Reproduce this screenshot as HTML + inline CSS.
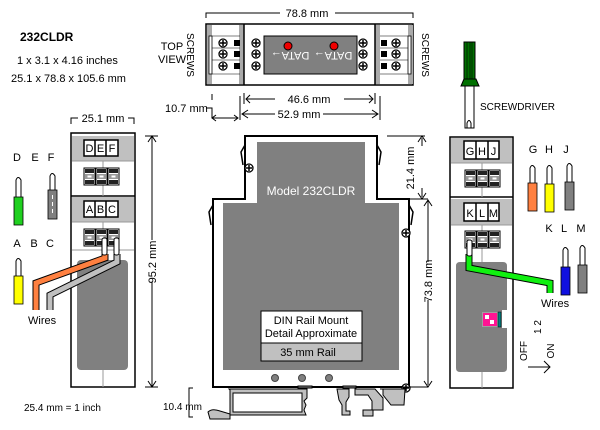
<!DOCTYPE html>
<html><head><style>
body{margin:0;background:#fff}
svg{display:block}
text{font-family:"Liberation Sans",sans-serif;font-size:11px;fill:#000}
</style></head><body>
<svg width="600" height="430" viewBox="0 0 600 430" xmlns="http://www.w3.org/2000/svg">
<defs>
<g id="scr"><circle r="4" fill="#fff" stroke="#000" stroke-width="1.3"/><path d="M-3 0H3M0 -3V3" stroke="#000" stroke-width="1.5"/></g>
<g id="term"><rect x="0" y="0" width="11" height="17" fill="#fff" stroke="#000"/><rect x="1" y="1" width="9" height="4" fill="#222"/><rect x="1" y="6" width="9" height="5" fill="#999"/><rect x="3.5" y="7.5" width="4" height="2" fill="#fff"/><rect x="1" y="12" width="9" height="4" fill="#222"/></g>
</defs>

<text x="20" y="41" font-weight="bold" style="font-size:12px">232CLDR</text>
<text x="17" y="64">1 x 3.1 x 4.16 inches</text>
<text x="11" y="82">25.1 x 78.8 x 105.6 mm</text>
<text x="24" y="411" style="font-size:10px">25.4 mm = 1 inch</text>

<text x="172" y="50" text-anchor="middle">TOP</text>
<text x="172" y="63" text-anchor="middle">VIEW</text>
<path d="M206 18V13H280M335 13H413V18" fill="none" stroke="#000"/>
<text x="307" y="17" text-anchor="middle">78.8 mm</text>
<rect x="206" y="24" width="207" height="61" fill="#fff" stroke="#000" stroke-width="1.5"/>
<rect x="207" y="25" width="5" height="59" fill="#aaa"/>
<rect x="239" y="25" width="5" height="59" fill="#aaa"/>
<rect x="375" y="25" width="5" height="59" fill="#aaa"/>
<rect x="408" y="25" width="5" height="59" fill="#aaa"/>
<path d="M244 24V85M375 24V85" stroke="#000" stroke-width="1.5"/>
<rect x="209" y="36" width="3" height="38" fill="#fff" stroke="#000" stroke-width=".8"/>
<rect x="408" y="36" width="3" height="38" fill="#fff" stroke="#000" stroke-width=".8"/>
<path d="M212 36H240M212 48H240M212 60H240M212 74H240M380 36H408M380 48H408M380 60H408M380 74H408" stroke="#000" stroke-width=".6"/>
<rect x="264" y="36" width="93" height="38" fill="#808080" stroke="#000"/>
<use href="#scr" x="223" y="43"/><use href="#scr" x="223" y="54"/><use href="#scr" x="223" y="66"/>
<use href="#scr" x="256" y="43"/><use href="#scr" x="256" y="54"/><use href="#scr" x="256" y="66"/>
<use href="#scr" x="363" y="43"/><use href="#scr" x="363" y="54"/><use href="#scr" x="363" y="66"/>
<use href="#scr" x="396" y="43"/><use href="#scr" x="396" y="54"/><use href="#scr" x="396" y="66"/>
<rect x="234" y="40" width="6" height="6" fill="#000"/><rect x="234" y="51" width="6" height="6" fill="#000"/><rect x="234" y="63" width="6" height="6" fill="#000"/>
<rect x="381" y="40" width="6" height="6" fill="#000"/><rect x="381" y="51" width="6" height="6" fill="#000"/><rect x="381" y="63" width="6" height="6" fill="#000"/>
<circle cx="288" cy="46" r="4" fill="#e00" stroke="#000"/><circle cx="334" cy="46" r="4" fill="#e00" stroke="#000"/>
<text transform="translate(290,52) rotate(180)" text-anchor="middle" style="fill:#fff">DATA→</text>
<text transform="translate(333,52) rotate(180)" text-anchor="middle" style="fill:#fff">DATA→</text>
<text transform="translate(187,55) rotate(90)" text-anchor="middle" style="font-size:10px">SCREWS</text>
<text transform="translate(422,55) rotate(90)" text-anchor="middle" style="font-size:10px">SCREWS</text>
<path d="M212 94V100M240 96V120M244 93V104M375 93V104M380 96V120" stroke="#000"/>
<path d="M246 99H275M344 99H373M242 114H275M323 114H378" stroke="#000"/>
<path d="M250 95L246 99L250 103M369 95L373 99L369 103M248 110L242 114L248 118M372 110L378 114L372 118" fill="none" stroke="#000"/>
<text x="309" y="103" text-anchor="middle">46.6 mm</text>
<text x="299" y="118" text-anchor="middle">52.9 mm</text>
<text x="165" y="112">10.7 mm</text>
<path d="M206 108H212V118M212 118H238M216 115L212 118L216 121M234 115L238 118L234 121" fill="none" stroke="#000"/>

<rect x="464" y="42" width="11" height="37" fill="#007000" stroke="#000"/>
<path d="M467 42V79M470 42V79M472 42V79" stroke="#000" stroke-width=".6"/>
<path d="M464 79L461 86H479L476 79Z" fill="#007000" stroke="#000"/>
<rect x="465" y="86" width="9" height="42" fill="#fff" stroke="#000"/>
<path d="M467 128V123Q469 118 471 123V128" fill="none" stroke="#000"/>
<text x="480" y="110" style="font-size:10px">SCREWDRIVER</text>

<path d="M71 124V118H78M128 118H134V124" fill="none" stroke="#000"/>
<text x="103" y="122" text-anchor="middle">25.1 mm</text>
<rect x="71" y="133" width="64" height="254" fill="#fff" stroke="#000" stroke-width="1.5"/>
<rect x="72" y="136" width="62" height="25" fill="#c0c0c0"/>
<rect x="72" y="197" width="62" height="25" fill="#c0c0c0"/>
<path d="M71 196H135" stroke="#000" stroke-width="1.5"/>
<path d="M72 161H134M72 222H134M72 250H134" stroke="#999"/>
<path d="M103 161V196M103 222V255M103 370V387" stroke="#999"/>
<g stroke="#000" stroke-width="1.5" fill="#fff">
<rect x="84" y="140" width="34" height="16"/><path d="M95 140V156M106 140V156"/>
<rect x="84" y="201" width="34" height="16"/><path d="M95 201V217M106 201V217"/>
</g>
<text x="89.5" y="152" text-anchor="middle">D</text><text x="100.5" y="152" text-anchor="middle">E</text><text x="112" y="152" text-anchor="middle">F</text>
<text x="89.5" y="213" text-anchor="middle">A</text><text x="100.5" y="213" text-anchor="middle">B</text><text x="112" y="213" text-anchor="middle">C</text>
<use href="#term" x="84" y="168"/><use href="#term" x="96" y="168"/><use href="#term" x="108" y="168"/>
<use href="#term" x="84" y="229"/><use href="#term" x="96" y="229"/><use href="#term" x="108" y="229"/>
<rect x="77" y="260" width="51" height="110" rx="4" fill="#808080"/>
<path d="M105 254V258L36 283V310" fill="none" stroke="#000" stroke-width="7"/>
<path d="M105 254V258L36 283V310" fill="none" stroke="#ff8040" stroke-width="5"/>
<path d="M117 254V262L50 295V310" fill="none" stroke="#000" stroke-width="7"/>
<path d="M117 254V262L50 295V310" fill="none" stroke="#c0c0c0" stroke-width="5"/>
<rect x="102" y="238" width="5" height="17" fill="#fff" stroke="#000" rx="2"/>
<rect x="114" y="238" width="5" height="17" fill="#fff" stroke="#000" rx="2"/>
<text x="28" y="324">Wires</text>
<path d="M145 136H158M145 387H158M152 137V240M152 282V386M148 142L152 136L156 142M148 381L152 387L156 381" fill="none" stroke="#000"/>
<text transform="translate(156,262) rotate(-90)" text-anchor="middle">95.2 mm</text>
<text x="17" y="161" text-anchor="middle">D</text><text x="35" y="161" text-anchor="middle">E</text><text x="51" y="161" text-anchor="middle">F</text>
<text x="17" y="247" text-anchor="middle">A</text><text x="34" y="247" text-anchor="middle">B</text><text x="50" y="247" text-anchor="middle">C</text>
<path d="M16 198V180Q18 175 21 180V198Z" fill="#fff" stroke="#000"/><rect x="14" y="197" width="9" height="28" fill="#20d020" stroke="#000" stroke-width=".8"/>
<path d="M50 191V176Q52 171 55 176V191Z" fill="#fff" stroke="#000"/><rect x="48" y="190" width="9" height="29" fill="#808080" stroke="#000" stroke-width=".8"/><path d="M52.5 195V214" stroke="#fff" stroke-dasharray="4 3"/>
<path d="M16 277V261Q18 256 21 261V277Z" fill="#fff" stroke="#000"/><rect x="14" y="276" width="9" height="28" fill="#ffff00" stroke="#000" stroke-width=".8"/>

<path d="M245 136H377V199H409V387H213V199H245Z" fill="#fff" stroke="#000" stroke-width="2"/>
<path d="M245 145L241 152L243 165M377 145L381 152L379 165M213 205L209 212L211 225M409 205L413 212L411 225" fill="none" stroke="#000" stroke-width="1.5"/>
<rect x="257" y="142" width="108" height="62" fill="#808080"/>
<rect x="223" y="203" width="176" height="167" fill="#808080"/>
<text x="311" y="195" text-anchor="middle" style="fill:#fff;font-size:12px">Model 232CLDR</text>
<rect x="261" y="311" width="101" height="32" fill="#fff" stroke="#000"/>
<rect x="261" y="343" width="101" height="18" fill="#c0c0c0" stroke="#000"/>
<text x="311" y="324" text-anchor="middle">DIN Rail Mount</text>
<text x="311" y="337" text-anchor="middle">Detail Approximate</text>
<text x="308" y="356" text-anchor="middle">35 mm Rail</text>
<circle cx="275" cy="378" r="3.5" fill="#808080" stroke="#444"/><circle cx="302" cy="378" r="3.5" fill="#808080" stroke="#444"/><circle cx="329" cy="378" r="3.5" fill="#808080" stroke="#444"/>
<use href="#scr" x="249" y="168"/><use href="#scr" x="406" y="233"/><use href="#scr" x="406" y="388"/>
<g fill="#c0c0c0" stroke="#000" stroke-width="1">
<path d="M229 389H307V398L304 401L306 405L304 410L306 415H230V390Z"/>
<path d="M233 393V412H302V393Z" fill="#fff"/>
<path d="M208 412Q212 408 220 411L230 414V419H210Z"/>
<path d="M337 389H349V397L346 402V411H350V415H342V405L339 400Z"/>
<path d="M355 389H375L383 398V410H373V416H363V410H372V401L368 395H355Z"/>
<path d="M343 388V386H356V388Z" fill="#808080"/>
<path d="M298 388V386H312V388Z" fill="#808080"/>
<path d="M380 389H405L404 405H391L383 395V389"/>
</g>
<path d="M193 388H189V417H193" fill="none" stroke="#000"/>
<text x="163" y="410" style="font-size:10px">10.4 mm</text>
<path d="M387 136H425M387 199H428M385 387H428" stroke="#000"/>
<path d="M422 138V146M418 142L422 136L426 142M422 188V197M418 193L422 199L426 193" fill="none" stroke="#000"/>
<text transform="translate(414,168) rotate(-90)" text-anchor="middle">21.4 mm</text>
<path d="M428 201V262M428 300V385M424 206L428 200L432 206M424 381L428 387L432 381" fill="none" stroke="#000"/>
<text transform="translate(432,281) rotate(-90)" text-anchor="middle">73.8 mm</text>

<rect x="450" y="137" width="63" height="251" fill="#fff" stroke="#000" stroke-width="1.5"/>
<rect x="451" y="138" width="61" height="25" fill="#c0c0c0"/>
<rect x="451" y="199" width="61" height="26" fill="#c0c0c0"/>
<path d="M450 197H513" stroke="#000" stroke-width="1.5"/>
<path d="M451 163H512M451 225H512" stroke="#999"/>
<path d="M482 163V197M482 225V262M482 372V388" stroke="#999"/>
<g stroke="#000" stroke-width="1.5" fill="#fff">
<rect x="464" y="141" width="35" height="18"/><path d="M476 141V159M488 141V159"/>
<rect x="464" y="203" width="35" height="18"/><path d="M476 203V221M488 203V221"/>
</g>
<text x="470" y="155" text-anchor="middle">G</text><text x="482" y="155" text-anchor="middle">H</text><text x="493.5" y="155" text-anchor="middle">J</text>
<text x="470" y="217" text-anchor="middle">K</text><text x="482" y="217" text-anchor="middle">L</text><text x="493.5" y="217" text-anchor="middle">M</text>
<use href="#term" x="465" y="170"/><use href="#term" x="477" y="170"/><use href="#term" x="489" y="170"/>
<use href="#term" x="465" y="231"/><use href="#term" x="477" y="231"/><use href="#term" x="489" y="231"/>
<path d="M456 266Q456 262 460 262H503Q507 262 507 266V310H502V328H507V368Q507 372 503 372H460Q456 372 456 368Z" fill="#808080"/>
<rect x="482" y="312" width="18" height="15" fill="#a0a0a0"/>
<rect x="483" y="313" width="14" height="13" fill="#ff1493"/>
<rect x="485" y="315" width="4" height="4" fill="#fff"/><rect x="490" y="320" width="4" height="4" fill="#fff"/>
<rect x="498" y="312" width="3" height="15" fill="#008080" stroke="#000" stroke-width=".5"/>
<path d="M469 254V268L550 283V293" fill="none" stroke="#000" stroke-width="7"/>
<path d="M469 254V268L550 283V293" fill="none" stroke="#10f010" stroke-width="5"/>
<rect x="467" y="240" width="5" height="16" fill="#fff" stroke="#000" rx="2"/>
<text x="541" y="307">Wires</text>
<text transform="translate(541,334) rotate(-90)" style="font-size:10px">1 2</text>
<text transform="translate(527,351) rotate(-90)" text-anchor="middle" style="font-size:10px">OFF</text>
<text transform="translate(554,351) rotate(-90)" text-anchor="middle" style="font-size:10px">ON</text>
<path d="M528 367H550M544 361L550 367L544 373" fill="none" stroke="#000"/>
<text x="533" y="153" text-anchor="middle">G</text><text x="549" y="153" text-anchor="middle">H</text><text x="566" y="153" text-anchor="middle">J</text>
<text x="549" y="232" text-anchor="middle">K</text><text x="564" y="232" text-anchor="middle">L</text><text x="581" y="232" text-anchor="middle">M</text>
<path d="M530 184V168Q532 163 535 168V184Z" fill="#fff" stroke="#000"/><rect x="528" y="183" width="9" height="28" fill="#ff8040" stroke="#000" stroke-width=".8"/>
<path d="M547 185V168Q549 163 552 168V185Z" fill="#fff" stroke="#000"/><rect x="545" y="184" width="9" height="28" fill="#ffff00" stroke="#000" stroke-width=".8"/>
<path d="M567 183V166Q569 161 572 166V183Z" fill="#fff" stroke="#000"/><rect x="565" y="182" width="9" height="28" fill="#808080" stroke="#000" stroke-width=".8"/>
<path d="M563 268V250Q565 245 568 250V268Z" fill="#fff" stroke="#000"/><rect x="561" y="267" width="9" height="28" fill="#1010e0" stroke="#000" stroke-width=".8"/>
<path d="M580 266V248Q582 243 585 248V266Z" fill="#fff" stroke="#000"/><rect x="578" y="265" width="9" height="28" fill="#808080" stroke="#000" stroke-width=".8"/>
</svg>
</body></html>
